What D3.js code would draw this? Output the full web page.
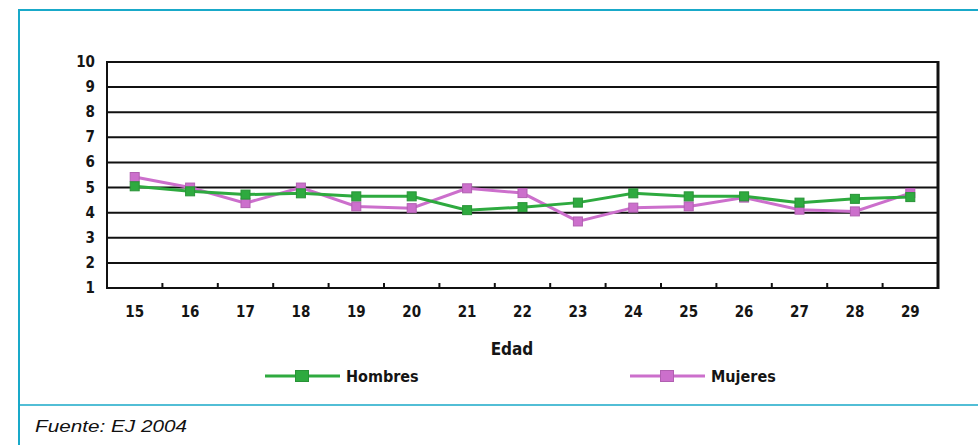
<!DOCTYPE html>
<html>
<head>
<meta charset="utf-8">
<script src="https://cdn.jsdelivr.net/npm/d3@7"></script>
<style>
  html, body { margin: 0; padding: 0; background: #fff; }
  svg { display: block; }
  .tick-lbl { font-family: "DejaVu Sans Condensed", "Liberation Sans Narrow", sans-serif; font-weight: bold; font-size: 15px; fill: #151515; }
</style>
</head>
<body>
<svg id="chart" width="978" height="445"></svg>
<script>
// Edad (años)
const ages = ["15","16","17","18","19","20","21","22","23","24","25","26","27","28","29"];
// Valores por sexo
const hombres = [5.05, 4.85, 4.72, 4.77, 4.65, 4.65, 4.1, 4.22, 4.4, 4.77, 4.65, 4.65, 4.4, 4.55, 4.62];
const mujeres = [5.42, 5.0, 4.38, 5.0, 4.25, 4.18, 4.97, 4.78, 3.65, 4.2, 4.25, 4.6, 4.12, 4.05, 4.78];
const yTicks = [1, 2, 3, 4, 5, 6, 7, 8, 9, 10];
const seriesNames = ["Hombres", "Mujeres"];
const seriesColors = ["#2eaa3f", "#cc6fcc"];

const svg = d3.select("#chart");
const frameColor = "#19a9c9";

// Marco exterior
svg.append("line").attr("x1", 19).attr("x2", 978).attr("y1", 10).attr("y2", 10)
  .attr("stroke", frameColor).attr("stroke-width", 2);
svg.append("line").attr("x1", 19).attr("x2", 19).attr("y1", 9).attr("y2", 445)
  .attr("stroke", frameColor).attr("stroke-width", 2);
svg.append("line").attr("x1", 19).attr("x2", 978).attr("y1", 405).attr("y2", 405)
  .attr("stroke", frameColor).attr("stroke-width", 1.5);

const plot = { left: 107, right: 938, top: 62, bottom: 288 };
const x = d3.scaleBand().domain(ages).range([plot.left, plot.right]);
const y = d3.scaleLinear().domain([1, 10]).range([plot.bottom, plot.top]);
const cx = d => x(d) + x.bandwidth() / 2;

// Líneas de cuadrícula
svg.append("g").selectAll("line").data(yTicks).join("line")
  .attr("x1", plot.left).attr("x2", plot.right)
  .attr("y1", d => y(d)).attr("y2", d => y(d))
  .attr("stroke", "#111").attr("stroke-width", 2);

// Borde del área de trazado
svg.append("rect").attr("x", plot.left).attr("y", plot.top)
  .attr("width", plot.right - plot.left).attr("height", plot.bottom - plot.top)
  .attr("fill", "none").attr("stroke", "#111").attr("stroke-width", 2);
svg.append("line").attr("x1", plot.right).attr("x2", plot.right).attr("y1", plot.top - 1).attr("y2", plot.bottom + 1)
  .attr("stroke", "#111").attr("stroke-width", 3);

// Eje Y
const yAxis = svg.append("g").attr("transform", `translate(${plot.left},0)`)
  .call(d3.axisLeft(y).tickValues(yTicks).tickSize(0).tickPadding(12));
yAxis.select(".domain").remove();
yAxis.selectAll("text").attr("class", "tick-lbl").attr("font-family", null).attr("font-size", null)
  .attr("dy", "0.3em");

// Eje X: marcas entre categorías, hacia dentro
svg.append("g").selectAll("line").data(ages.slice(1)).join("line")
  .attr("x1", d => x(d)).attr("x2", d => x(d))
  .attr("y1", plot.bottom).attr("y2", plot.bottom - 5)
  .attr("stroke", "#111").attr("stroke-width", 2);
const xAxis = svg.append("g").attr("transform", `translate(0,${plot.bottom})`)
  .call(d3.axisBottom(x).tickSize(0).tickPadding(18));
xAxis.select(".domain").remove();
xAxis.selectAll("text").attr("class", "tick-lbl").attr("font-family", null).attr("font-size", null);

svg.append("text").attr("class", "tick-lbl").attr("x", 512).attr("y", 355)
  .attr("text-anchor", "middle").style("font-size", "17px").text("Edad");

// Series
const line = d3.line().x((d, i) => cx(ages[i])).y(d => y(d));
const ms = 9;
function drawSeries(values, color) {
  const g = svg.append("g");
  g.append("path").datum(values).attr("d", line)
    .attr("fill", "none").attr("stroke", color).attr("stroke-width", 3);
  g.selectAll("rect").data(values).join("rect")
    .attr("x", (d, i) => cx(ages[i]) - ms / 2).attr("y", d => y(d) - ms / 2)
    .attr("width", ms).attr("height", ms)
    .attr("fill", color).attr("stroke", d3.color(color).darker(0.4)).attr("stroke-width", 1);
}
drawSeries(mujeres, seriesColors[1]);
drawSeries(hombres, seriesColors[0]);

// Leyenda
const legendX = [265, 630];
seriesNames.forEach((name, i) => {
  const g = svg.append("g").attr("transform", `translate(${legendX[i]},376)`);
  g.append("line").attr("x1", 0).attr("x2", 75).attr("y1", 0).attr("y2", 0)
    .attr("stroke", seriesColors[i]).attr("stroke-width", 3);
  g.append("rect").attr("x", 37 - ms / 2 - 2).attr("y", -ms / 2 - 1).attr("width", ms + 4).attr("height", ms + 2)
    .attr("fill", seriesColors[i]).attr("stroke", d3.color(seriesColors[i]).darker(0.4));
  g.append("text").attr("class", "tick-lbl").attr("x", 81).attr("y", 6)
    .style("font-size", "16px").text(name);
});

// Fuente
svg.append("text").attr("x", 35).attr("y", 432)
  .attr("font-family", "Liberation Sans, Arial, sans-serif").attr("font-style", "italic")
  .attr("font-size", 16).attr("fill", "#111")
  .attr("textLength", 152).attr("lengthAdjust", "spacingAndGlyphs")
  .text("Fuente: EJ 2004");
</script>
</body>
</html>
